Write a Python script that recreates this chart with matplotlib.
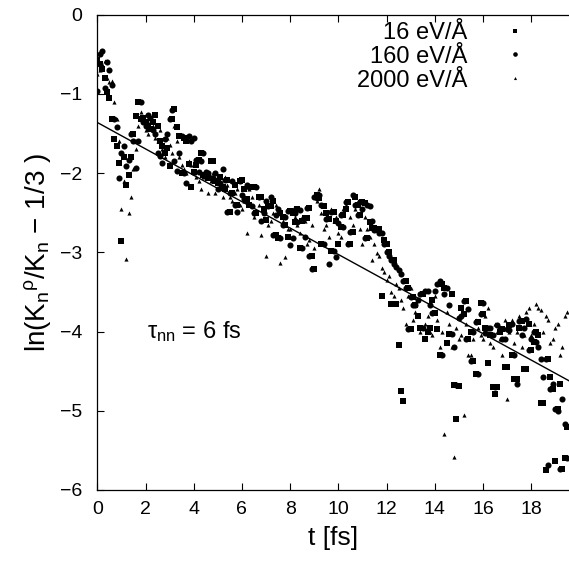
import matplotlib
matplotlib.use("Agg")
import matplotlib.pyplot as plt
import numpy as np

plt.rcParams["font.family"] = ["Liberation Sans", "DejaVu Sans"]
plt.rcParams["mathtext.fontset"] = "custom"
plt.rcParams["mathtext.rm"] = "Liberation Sans"
plt.rcParams["mathtext.it"] = "Liberation Sans"

# time samples [fs]: grid a = 0.0, 0.2, ... ; grid b = 0.1, 0.3, ...
t_a = np.round(np.arange(98) * 0.2, 1)
t_b = np.round(t_a + 0.1, 1)

# 16 eV/A (squares)
y16_a = [-0.57, -0.68, -0.97, -1.32, -1.66, -2.86, -2.15, -1.80, -1.28, -1.32,
         -1.36, -1.44, -1.27, -1.60, -1.74, -1.91, -1.19, -1.53, -1.55, -1.89,
         -1.98, -1.83, -2.02, -2.06, -1.85, -2.12, -2.18, -2.08, -2.25, -2.40,
         -2.08, -2.32, -2.17, -2.50, -2.30, -2.59, -2.42, -2.78, -2.50, -2.66,
         -2.48, -2.62, -2.95, -2.57, -2.44, -3.21, -2.31, -2.42, -2.58, -2.49,
         -2.89, -2.53, -2.36, -2.74, -2.40, -2.36, -2.82, -2.69, -2.72, -3.55,
         -2.89, -3.65, -3.65, -4.75, -3.36, -3.97, -3.66, -3.96, -4.10, -3.96,
         -3.76, -4.30, -3.45, -4.03, -4.67, -4.69, -3.78, -4.09, -4.37, -3.88,
         -3.78, -4.40, -4.70, -4.70, -3.97, -4.45, -4.30, -4.60, -3.87, -4.47,
         -4.23, -4.00, -4.90, -5.75, -4.58, -5.63, -4.66, -5.60]
y16_b = [-0.62, -0.80, -1.05, -1.57, -1.87, -1.79, -2.02, -1.50, -1.10, -1.30,
         -1.40, -1.35, -1.40, -1.66, -1.68, -1.32, -1.42, -2.00, -1.60, -2.17,
         -1.90, -1.74, -2.02, -1.85, -2.10, -2.05, -2.20, -2.49, -2.15, -2.10,
         -2.20, -2.40, -2.17, -2.30, -2.45, -2.42, -2.35, -2.82, -2.55, -2.81,
         -2.50, -2.45, -2.60, -2.57, -3.04, -2.27, -2.89, -2.50, -2.98, -2.60,
         -2.68, -2.45, -2.89, -2.30, -2.53, -2.38, -2.62, -2.69, -2.70, -2.85,
         -3.00, -3.10, -4.17, -4.88, -3.45, -3.57, -3.80, -3.53, -4.00, -3.60,
         -3.97, -3.40, -4.15, -3.53, -5.11, -3.70, -3.61, -4.00, -4.53, -3.64,
         -3.95, -4.05, -4.79, -4.00, -4.45, -3.92, -4.60, -3.95, -4.47, -3.90,
         -4.13, -4.05, -4.90, -4.35, -4.72, -4.98, -5.73, -5.20]

# 160 eV/A (circles)
y160_a = [-0.96, -0.46, -0.59, -0.89, -1.42, -1.74, -1.91, -1.50, -1.93, -1.10,
          -1.40, -1.30, -1.50, -1.78, -1.57, -1.32, -1.85, -1.74, -2.00, -1.53,
          -1.55, -1.98, -1.74, -2.00, -2.06, -2.20, -1.95, -2.49, -2.10, -2.49,
          -2.28, -2.15, -2.42, -2.17, -2.60, -2.35, -2.30, -2.53, -2.82, -2.55,
          -2.91, -2.50, -2.46, -2.80, -3.04, -2.30, -2.27, -2.89, -3.15, -2.98,
          -2.63, -2.68, -2.89, -2.27, -2.53, -2.45, -2.40, -2.60, -2.70, -2.75,
          -3.00, -3.10, -3.19, -3.27, -3.45, -3.57, -3.66, -3.53, -3.49, -3.66,
          -3.49, -3.36, -3.53, -3.66, -4.19, -3.83, -3.61, -3.72, -4.00, -4.53,
          -3.64, -3.95, -4.05, -3.92, -4.10, -3.97, -3.90, -4.66, -4.05, -3.84,
          -4.10, -4.13, -4.35, -4.35, -4.72, -4.98, -5.73, -5.17]
y160_b = [-0.50, -0.93, -0.70, -1.32, -2.06, -1.66, -1.83, -1.60, -1.60, -1.36,
          -1.27, -1.45, -1.74, -1.87, -1.50, -1.20, -1.97, -1.53, -2.12, -1.60,
          -1.83, -1.85, -1.98, -2.06, -2.00, -2.12, -2.08, -2.25, -2.40, -2.10,
          -2.33, -2.17, -2.50, -2.30, -2.50, -2.42, -2.78, -2.45, -2.66, -2.48,
          -2.82, -2.62, -2.95, -2.44, -3.21, -2.31, -2.40, -2.58, -2.49, -3.06,
          -2.53, -2.36, -2.74, -2.40, -2.36, -2.82, -2.42, -2.72, -2.75, -2.89,
          -3.05, -3.15, -3.22, -3.36, -3.97, -3.66, -3.60, -3.96, -3.49, -3.76,
          -3.40, -4.30, -3.45, -4.03, -4.67, -3.80, -4.09, -4.37, -3.88, -3.78,
          -4.02, -3.95, -4.70, -3.97, -4.10, -3.98, -4.30, -3.87, -3.95, -4.23,
          -4.00, -4.20, -4.58, -5.68, -4.66, -5.00, -4.85, -5.60]

# 2000 eV/A (triangles)
y2000_a = [-0.75, -0.62, -0.80, -0.83, -1.32, -2.45, -3.09, -2.30, -1.70, -1.23,
           -1.45, -1.35, -1.55, -1.45, -1.80, -1.65, -1.40, -1.80, -1.95, -1.85,
           -2.00, -2.10, -2.05, -2.25, -2.00, -2.05, -2.30, -2.15, -2.35, -2.20,
           -2.45, -2.75, -2.30, -2.50, -2.78, -3.04, -2.60, -2.40, -3.13, -3.06,
           -2.70, -2.55, -2.75, -2.60, -2.85, -2.95, -2.20, -2.70, -2.80, -2.60,
           -2.75, -2.45, -2.90, -2.65, -2.35, -2.90, -2.70, -3.10, -3.01, -3.20,
           -3.35, -3.50, -3.40, -3.60, -3.90, -3.45, -3.75, -4.00, -3.90, -4.00,
           -3.55, -4.19, -5.29, -3.90, -5.58, -4.10, -5.06, -4.29, -4.10, -3.95,
           -4.10, -3.70, -4.20, -4.00, -4.30, -4.85, -3.85, -4.00, -4.20, -3.75,
           -4.05, -3.65, -3.73, -3.80, -4.15, -3.95, -4.30, -3.80]
y2000_b = [-0.70, -0.58, -0.85, -1.10, -1.60, -2.10, -2.50, -1.95, -1.40, -1.30,
           -1.50, -1.40, -1.60, -1.70, -1.55, -1.75, -1.60, -1.90, -2.00, -1.90,
           -2.05, -2.20, -2.00, -2.10, -2.25, -2.15, -2.05, -2.30, -2.25, -2.40,
           -2.35, -2.20, -2.55, -2.40, -2.45, -2.65, -2.50, -2.80, -2.60, -2.70,
           -2.45, -2.65, -2.55, -2.90, -2.65, -2.35, -2.50, -2.65, -2.45, -2.55,
           -2.80, -2.40, -2.55, -2.45, -2.70, -2.55, -2.80, -2.90, -3.05, -3.25,
           -3.30, -3.55, -3.45, -3.70, -3.55, -3.85, -3.60, -3.95, -3.80, -4.05,
           -3.85, -4.00, -3.75, -4.20, -3.95, -4.05, -3.90, -4.29, -3.85, -4.05,
           -3.80, -4.15, -3.90, -4.10, -3.85, -4.00, -4.15, -3.80, -4.05, -3.70,
           -3.90, -3.70, -4.00, -3.85, -4.10, -3.90, -4.20, -3.75]

# exponential fit: ln(...) = y0 - t / tau
fit_y0 = -1.36
fit_tau = 6.0

fig = plt.figure(figsize=(5.69, 5.69), dpi=100)
ax = fig.add_axes([0.171, 0.139, 0.829, 0.835])

t_all = np.concatenate([t_a, t_b])
ax.plot(t_all, np.concatenate([y16_a, y16_b]), ls="none", marker="s", ms=4.0,
        color="black", mew=0, label="16 eV/Å")
ax.plot(t_all, np.concatenate([y160_a, y160_b]), ls="none", marker="o", ms=4.4,
        color="black", mew=0, label="160 eV/Å")
ax.plot(t_all, np.concatenate([y2000_a, y2000_b]), ls="none", marker="^", ms=3.0,
        color="black", mew=0, label="2000 eV/Å")

tf = np.array([0, 19.57])
ax.plot(tf, fit_y0 - tf / fit_tau, color="black", lw=1.0)

ax.text(2.05, -4.0, r"$\tau_{\mathrm{nn}}$ = 6 fs", fontsize=17, va="center")

ax.set_xlim(0, 19.57)
ax.set_ylim(-6, 0)
ax.set_xticks(np.arange(0, 19, 2))
ax.set_yticks(np.arange(-6, 1, 1))
ax.set_yticklabels(["\u22126", "\u22125", "\u22124", "\u22123", "\u22122", "\u22121", "0"])
ax.tick_params(direction="in", top=True, right=False, length=5, width=0.8,
               labelsize=14)
ax.tick_params(axis="y", pad=11)
ax.tick_params(axis="x", pad=8)
ax.spines["right"].set_visible(False)
for s in ["left", "top", "bottom"]:
    ax.spines[s].set_linewidth(0.9)

ax.set_xlabel("t [fs]", fontsize=19, labelpad=6)
ax.set_ylabel(r"ln(K$_\mathrm{n}$$^\mathrm{\rho}$/K$_\mathrm{n}$ $-$ 1/3 )",
              fontsize=20, labelpad=5)

leg = ax.legend(loc="upper right", bbox_to_anchor=(0.97, 1.02), frameon=False,
                markerfirst=False, fontsize=17, handletextpad=1.0,
                labelspacing=0.08, borderpad=0.2, markerscale=0.75)
for txt in leg.get_texts():
    txt.set_ha("right")
    txt.set_position((0, 0))

fig.savefig("out.png", dpi=100)
